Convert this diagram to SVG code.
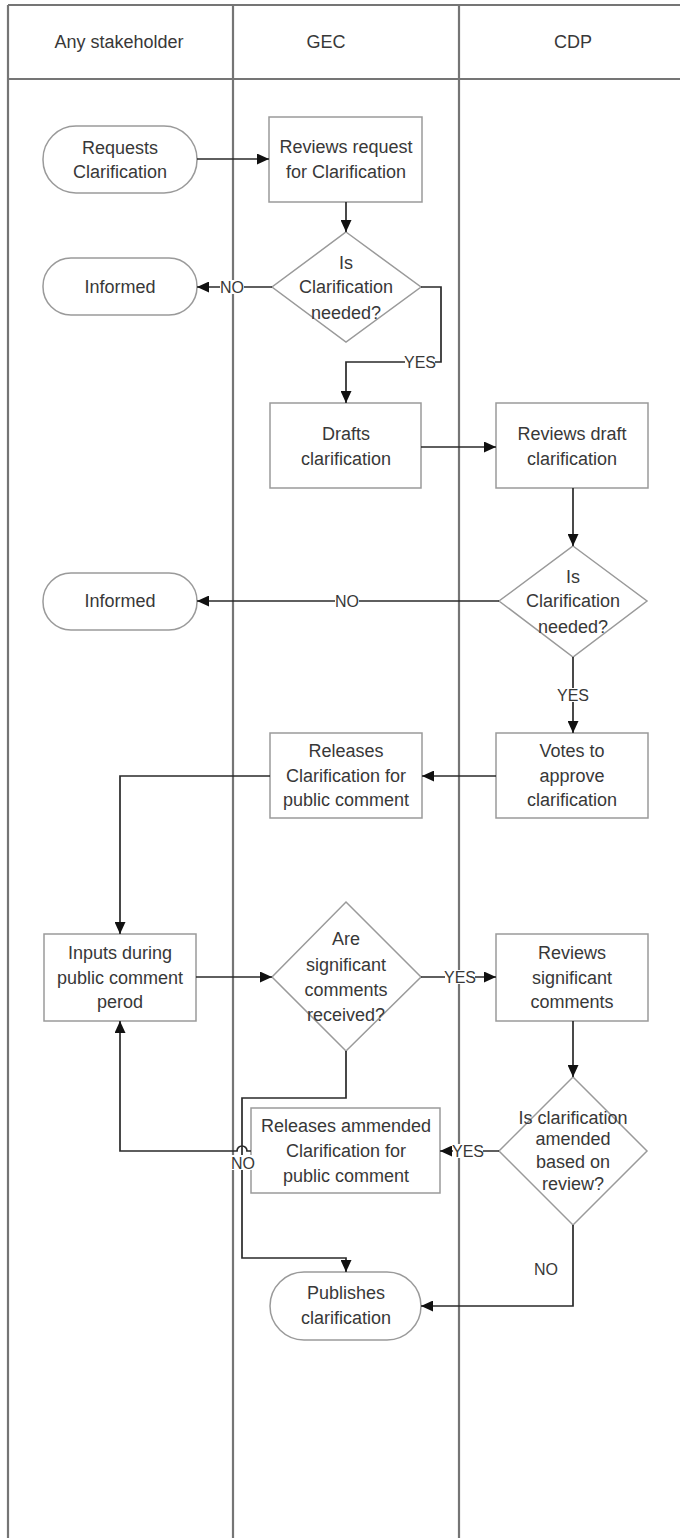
<svg xmlns="http://www.w3.org/2000/svg" width="680" height="1538" viewBox="0 0 680 1538">
<style>
.lane{stroke:#757575;stroke-width:2.2;fill:none}
.shape{fill:#fff;stroke:#9a9a9a;stroke-width:1.5}
.t{font-family:"Liberation Sans",Arial,sans-serif;font-size:18px;fill:#383838;text-anchor:middle;dominant-baseline:central}
.h{font-family:"Liberation Sans",Arial,sans-serif;font-size:18px;fill:#383838;text-anchor:middle;dominant-baseline:central}
.c{fill:none;stroke:#2a2a2a;stroke-width:1.7}
.bg{fill:#fff}
.lbl{font-family:"Liberation Sans",Arial,sans-serif;font-size:16px;fill:#383838;text-anchor:middle;dominant-baseline:central}
</style>
<defs>
<marker id="arr" markerWidth="13" markerHeight="11" refX="12" refY="5.5" orient="auto" markerUnits="userSpaceOnUse">
<path d="M0,0 L12,5.5 L0,11 z" fill="#111"/>
</marker>
</defs>
<rect width="680" height="1538" fill="#fff"/>
<g id="lanes">
<path class="lane" d="M8,5 H680 M8,79 H680 M8,5 V1538 M233,5 V1538 M459,5 V1538"/>
<text class="h" x="119" y="42">Any stakeholder</text>
<text class="h" x="326" y="42">GEC</text>
<text class="h" x="573" y="42">CDP</text>
</g>
<g id="requests">
<rect class="shape" x="43" y="126" width="154" height="67" rx="33" ry="33"/>
<text class="t" x="120" y="148">Requests</text>
<text class="t" x="120" y="172">Clarification</text>
</g>
<g id="reviews-request">
<rect class="shape" x="269" y="117" width="153" height="85"/>
<text class="t" x="346" y="147">Reviews request</text>
<text class="t" x="346" y="172">for Clarification</text>
</g>
<g id="decision1">
<polygon class="shape" points="346,232 421,287 346,342 272,287"/>
<text class="t" x="346" y="263">Is</text>
<text class="t" x="346" y="287">Clarification</text>
<text class="t" x="346" y="313">needed?</text>
</g>
<g id="informed1">
<rect class="shape" x="43" y="258" width="154" height="57" rx="28" ry="28"/>
<text class="t" x="120" y="287">Informed</text>
</g>
<g id="drafts">
<rect class="shape" x="270" y="403" width="151" height="85"/>
<text class="t" x="346" y="434">Drafts</text>
<text class="t" x="346" y="459">clarification</text>
</g>
<g id="reviews-draft">
<rect class="shape" x="496" y="403" width="152" height="85"/>
<text class="t" x="572" y="434">Reviews draft</text>
<text class="t" x="572" y="459">clarification</text>
</g>
<g id="decision2">
<polygon class="shape" points="573,546 647,601 573,657 499,601"/>
<text class="t" x="573" y="577">Is</text>
<text class="t" x="573" y="601">Clarification</text>
<text class="t" x="573" y="627">needed?</text>
</g>
<g id="informed2">
<rect class="shape" x="43" y="573" width="154" height="57" rx="28" ry="28"/>
<text class="t" x="120" y="601">Informed</text>
</g>
<g id="votes">
<rect class="shape" x="496" y="733" width="152" height="85"/>
<text class="t" x="572" y="751">Votes to</text>
<text class="t" x="572" y="776">approve</text>
<text class="t" x="572" y="800">clarification</text>
</g>
<g id="releases">
<rect class="shape" x="270" y="733" width="152" height="85"/>
<text class="t" x="346" y="751">Releases</text>
<text class="t" x="346" y="776">Clarification for</text>
<text class="t" x="346" y="800">public comment</text>
</g>
<g id="inputs">
<rect class="shape" x="44" y="934" width="152" height="87"/>
<text class="t" x="120" y="953">Inputs during</text>
<text class="t" x="120" y="978">public comment</text>
<text class="t" x="120" y="1002">perod</text>
</g>
<g id="decision3">
<polygon class="shape" points="346,902 421,977 346,1051 272,977"/>
<text class="t" x="346" y="939">Are</text>
<text class="t" x="346" y="965">significant</text>
<text class="t" x="346" y="990">comments</text>
<text class="t" x="346" y="1015">received?</text>
</g>
<g id="reviews-significant">
<rect class="shape" x="496" y="934" width="152" height="87"/>
<text class="t" x="572" y="953">Reviews</text>
<text class="t" x="572" y="978">significant</text>
<text class="t" x="572" y="1002">comments</text>
</g>
<g id="decision4">
<polygon class="shape" points="573,1077 647,1151 573,1225 499,1151"/>
<text class="t" x="573" y="1118">Is clarification</text>
<text class="t" x="573" y="1139">amended</text>
<text class="t" x="573" y="1162">based on</text>
<text class="t" x="573" y="1184">review?</text>
</g>
<g id="releases-amended">
<rect class="shape" x="251" y="1108" width="189" height="85"/>
<text class="t" x="346" y="1126">Releases ammended</text>
<text class="t" x="346" y="1151">Clarification for</text>
<text class="t" x="346" y="1176">public comment</text>
</g>
<g id="publishes">
<rect class="shape" x="270" y="1272" width="151" height="68" rx="34" ry="34"/>
<text class="t" x="346" y="1293">Publishes</text>
<text class="t" x="346" y="1318">clarification</text>
</g>
<g id="connectors">
<path class="c" d="M197,159 L269,159" marker-end="url(#arr)"/>
<path class="c" d="M346,202 L346,232" marker-end="url(#arr)"/>
<path class="c" d="M272,287 L197,287" marker-end="url(#arr)"/>
<path class="c" d="M421,287 L441,287 L441,362 L346,362 L346,403" marker-end="url(#arr)"/>
<path class="c" d="M421,447 L496,447" marker-end="url(#arr)"/>
<path class="c" d="M573,488 L573,546" marker-end="url(#arr)"/>
<path class="c" d="M499,601 L197,601" marker-end="url(#arr)"/>
<path class="c" d="M573,657 L573,733" marker-end="url(#arr)"/>
<path class="c" d="M496,776 L422,776" marker-end="url(#arr)"/>
<path class="c" d="M270,776 L120,776 L120,934" marker-end="url(#arr)"/>
<path class="c" d="M196,977 L272,977" marker-end="url(#arr)"/>
<path class="c" d="M421,977 L496,977" marker-end="url(#arr)"/>
<path class="c" d="M573,1021 L573,1077" marker-end="url(#arr)"/>
<path class="c" d="M499,1151 L440,1151" marker-end="url(#arr)"/>
<path class="c" d="M251,1151 L247,1151 A5,5 0 0 0 237,1151 L120,1151 L120,1021" marker-end="url(#arr)"/>
<path class="c" d="M346,1051 L346,1098 L242,1098 L242,1258 L346,1258 L346,1272" marker-end="url(#arr)"/>
<path class="c" d="M573,1225 L573,1306 L421,1306" marker-end="url(#arr)"/>
<rect class="bg" x="220" y="280" width="24" height="14"/>
<text class="lbl" x="232" y="287">NO</text>
<rect class="bg" x="405" y="355" width="30" height="14"/>
<text class="lbl" x="420" y="362">YES</text>
<rect class="bg" x="335" y="594" width="24" height="14"/>
<text class="lbl" x="347" y="601">NO</text>
<rect class="bg" x="558" y="688" width="30" height="14"/>
<text class="lbl" x="573" y="695">YES</text>
<rect class="bg" x="445" y="970" width="30" height="14"/>
<text class="lbl" x="460" y="977">YES</text>
<rect class="bg" x="453" y="1144" width="30" height="14"/>
<text class="lbl" x="468" y="1151">YES</text>
<rect class="bg" x="230" y="1155" width="26" height="15"/>
<text class="lbl" x="243" y="1163">NO</text>
<text class="lbl" x="546" y="1269">NO</text>
</g>
</svg>
